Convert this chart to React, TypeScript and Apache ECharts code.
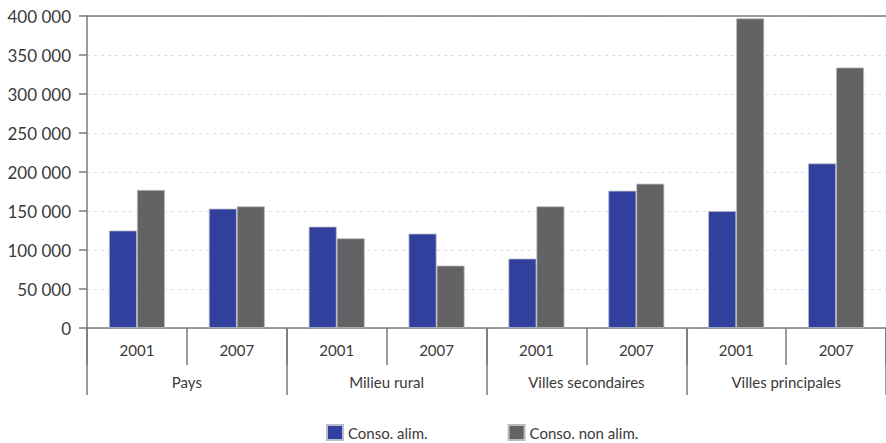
import React, { useEffect, useRef } from "react";
import * as echarts from "echarts";

const years = ["2001", "2007", "2001", "2007", "2001", "2007", "2001", "2007"];
const groups = ["Pays", "Milieu rural", "Villes secondaires", "Villes principales"];
const consoAlim = [125000, 153000, 130000, 121000, 89000, 176000, 150000, 211000];
const consoNonAlim = [177000, 156000, 115000, 80000, 156000, 185000, 397000, 334000];
const seriesNames = ["Conso. alim.", "Conso. non alim."];

const FONT = "Lato, 'Open Sans', sans-serif";
const TEXT = "#3a3a3a";
const AXIS = "#7a7a7a";

export default function App() {
  const ref = useRef<HTMLDivElement>(null);
  useEffect(() => {
    const chart = echarts.init(ref.current!, null, { renderer: "svg" });
    chart.setOption({
      animation: false,
      textStyle: { fontFamily: FONT },
      grid: { left: 87, right: 0, top: 16, bottom: 115, containLabel: false },
      legend: {
        left: 326,
        top: 424,
        padding: 0,
        itemWidth: 16,
        itemHeight: 15,
        itemGap: 80,
        icon: "rect",
        textStyle: { fontSize: 15, color: TEXT, fontFamily: FONT },
        data: seriesNames,
      },
      xAxis: [
        {
          type: "category",
          data: years,
          position: "bottom",
          axisLine: { show: true, lineStyle: { color: AXIS, width: 1.5 } },
          axisTick: { show: true, interval: 0, length: 37, lineStyle: { color: AXIS, width: 1.5 } },
          axisLabel: { interval: 0, margin: 14, fontSize: 15, color: TEXT, fontFamily: FONT },
        },
        {
          type: "category",
          data: groups,
          position: "bottom",
          offset: 0,
          axisLine: { show: false },
          axisTick: { show: true, interval: 0, length: 67, lineStyle: { color: AXIS, width: 1.5 } },
          axisLabel: { interval: 0, margin: 46, fontSize: 15, color: TEXT, fontFamily: FONT },
        },
        {
          type: "category",
          data: years,
          position: "top",
          axisLine: { show: true, lineStyle: { color: AXIS, width: 1.5 } },
          axisTick: { show: false },
          axisLabel: { show: false },
        },
      ],
      yAxis: {
        type: "value",
        min: 0,
        max: 400000,
        interval: 50000,
        axisLine: { show: true, lineStyle: { color: AXIS, width: 1.5 } },
        axisTick: { show: true, length: 8, lineStyle: { color: AXIS, width: 1.5 } },
        axisLabel: {
          margin: 16,
          fontSize: 17,
          color: TEXT,
          fontFamily: FONT,
          formatter: (v: number) => String(v).replace(/\B(?=(\d{3})+(?!\d))/g, " "),
        },
        splitLine: { show: true, lineStyle: { color: "#dcdcee", type: [3, 4], width: 1 } },
      },
      series: [
        {
          name: seriesNames[0],
          type: "bar",
          xAxisIndex: 0,
          data: consoAlim,
          barWidth: 28,
          barGap: "0%",
          itemStyle: { color: "#30409c", borderColor: "#b8bccc", borderWidth: 0.8 },
        },
        {
          name: seriesNames[1],
          type: "bar",
          xAxisIndex: 0,
          data: consoNonAlim,
          barWidth: 28,
          barGap: "0%",
          itemStyle: { color: "#636365", borderColor: "#bcbcbc", borderWidth: 0.8 },
        },
      ],
    });
    return () => chart.dispose();
  }, []);
  return (
    <div
      ref={ref}
      style={{ position: "fixed", left: 0, top: 0, width: 886, height: 443, background: "#fff" }}
    />
  );
}
